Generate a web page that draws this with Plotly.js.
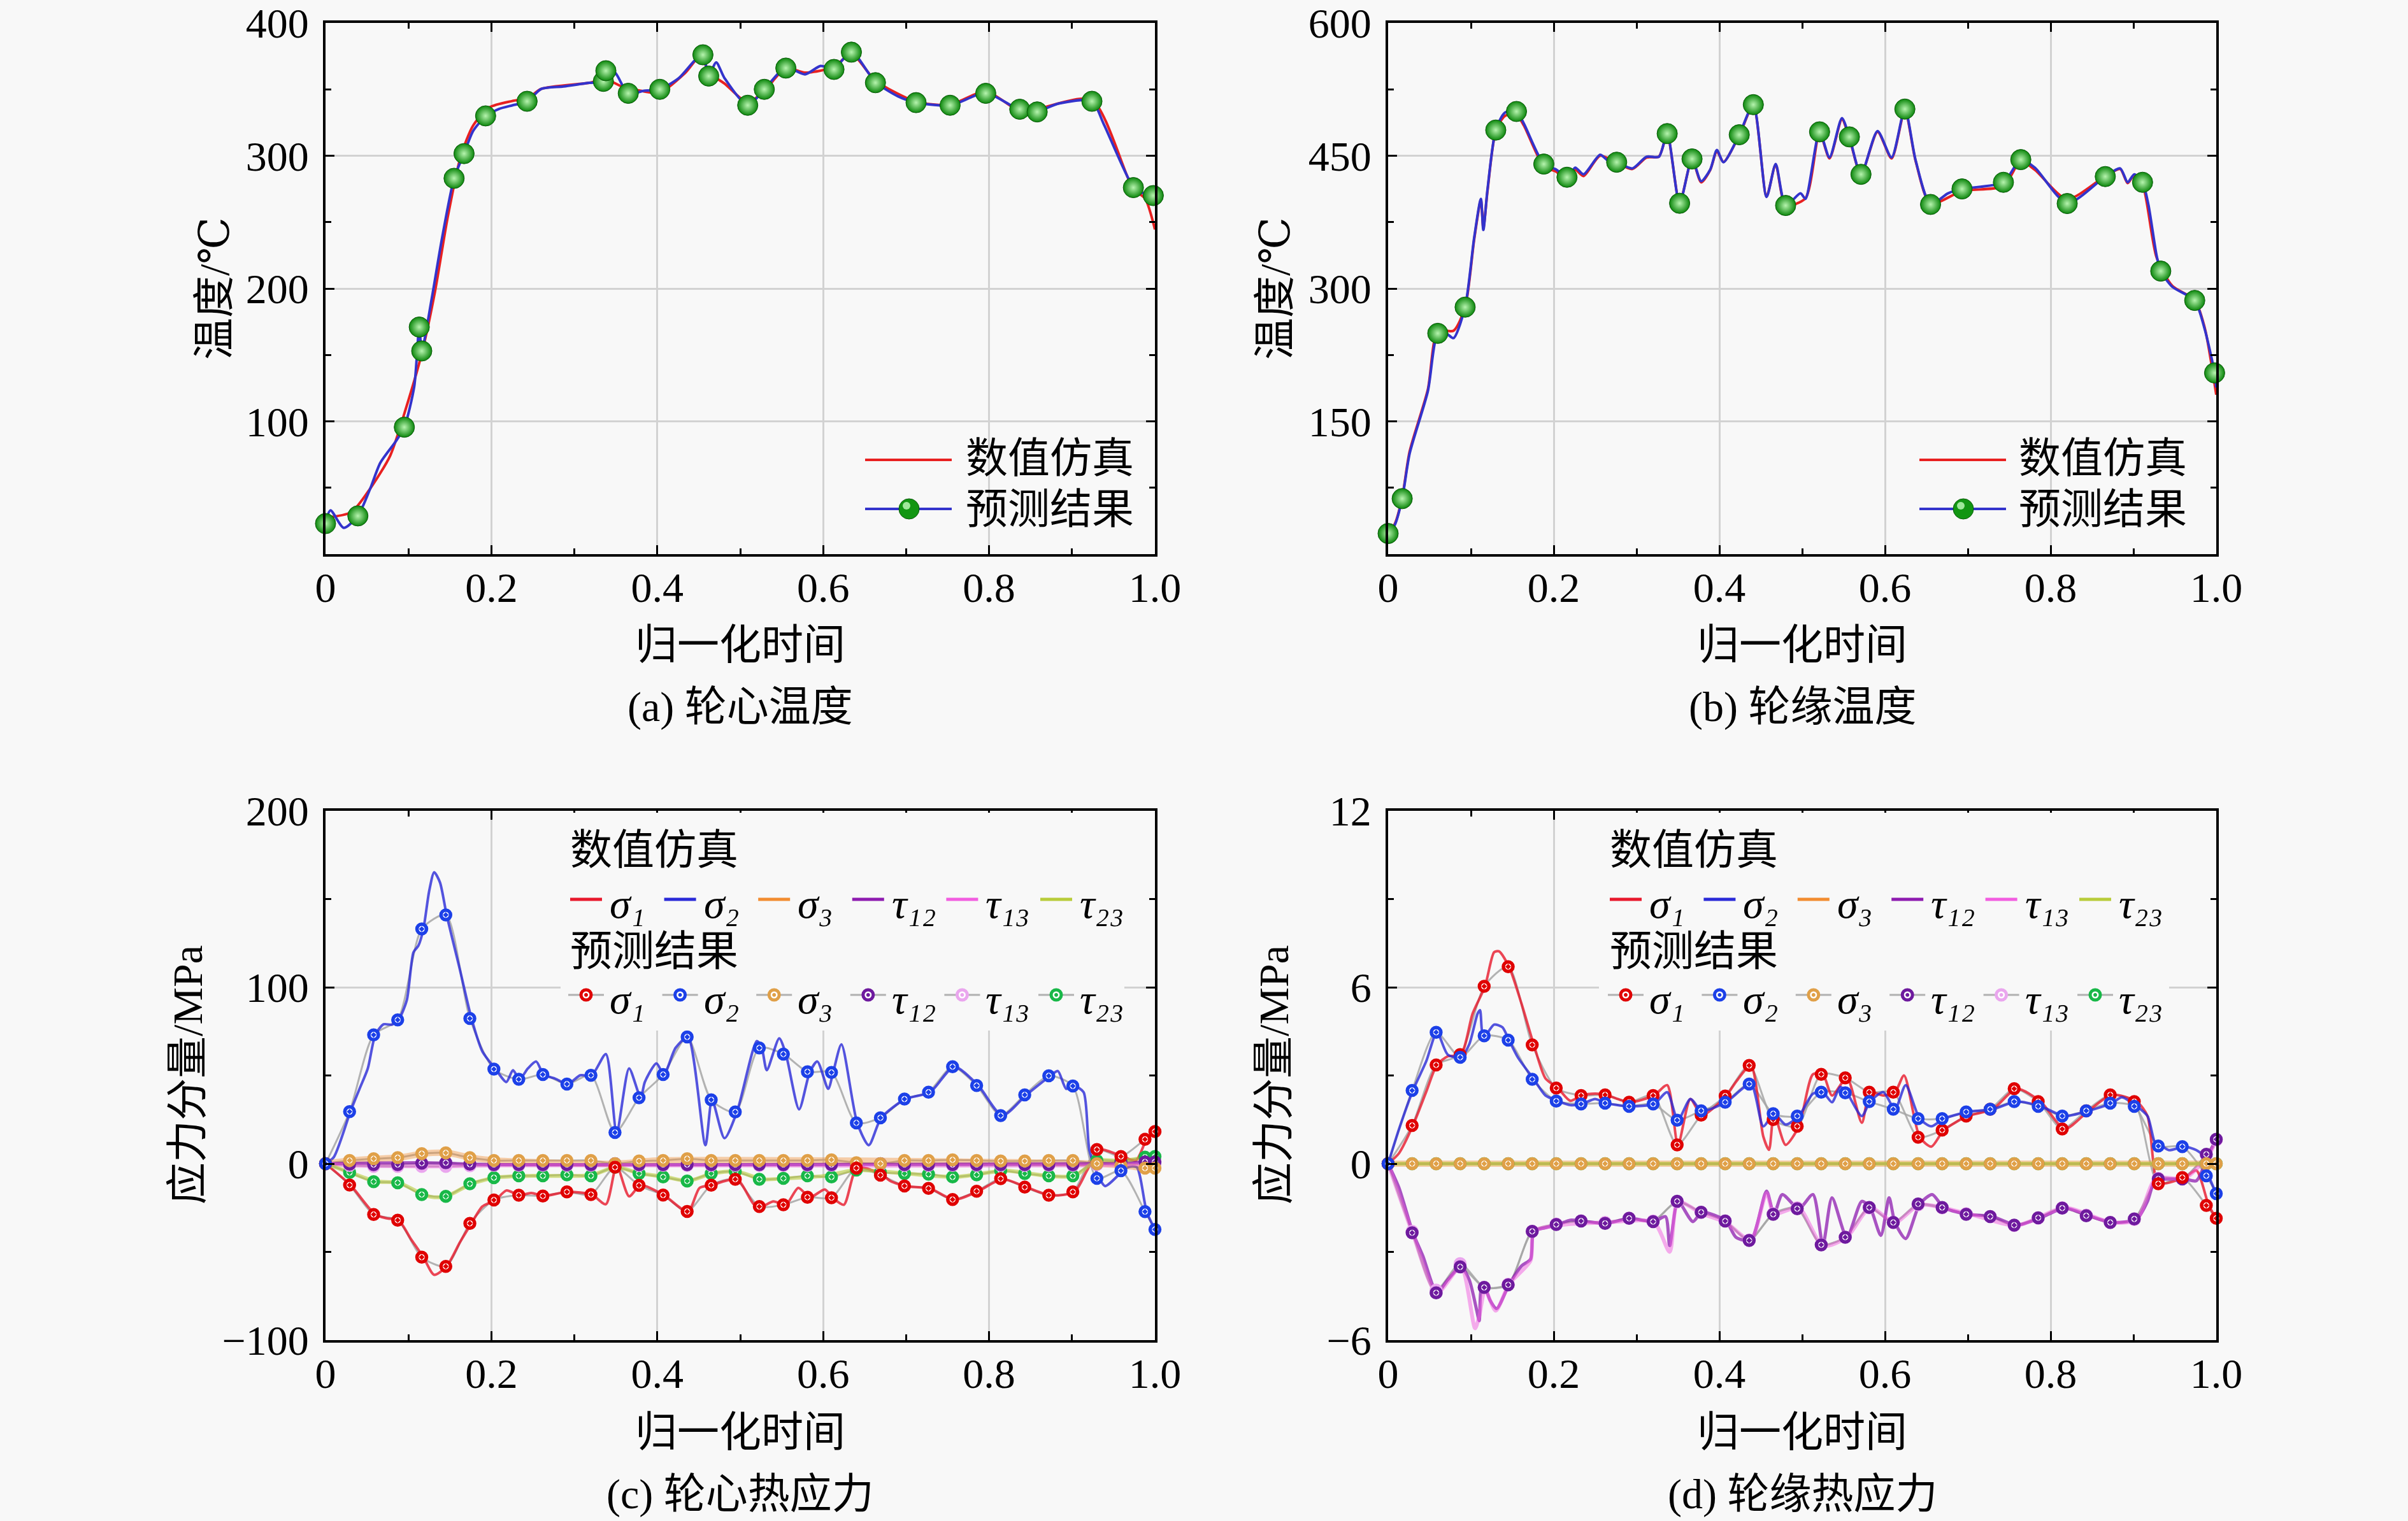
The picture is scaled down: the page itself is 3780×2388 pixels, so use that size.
<!DOCTYPE html>
<html><head><meta charset="utf-8">
<script src="https://cdn.plot.ly/plotly-3.0.1.min.js"></script>
<style>html,body{margin:0;padding:0;background:#f8f8f8}</style>
</head><body><div id="chart" style="width:3780px;height:2388px"></div>
<script>
// ---------------- DATA ----------------
// (a) 轮心温度
const tA_sim = [0,0.031,0.054,0.078,0.097,0.116,0.132,0.147,0.163,0.178,0.198,0.225,0.244,0.26,0.318,0.337,0.357,0.38,0.403,0.434,0.451,0.465,0.481,0.509,0.529,0.555,0.578,0.613,0.634,0.663,0.712,0.753,0.796,0.837,0.858,0.924,0.974,0.988,1.0];
const vA_sim = [27.5,31.6,49.5,74.2,109.9,151.1,197.8,252.7,299.5,322.8,336.5,341.2,343.4,350.3,354.9,357.7,352.2,348.9,347.5,362.6,374.2,361.3,354.4,340.1,348.9,365.9,362.6,366.8,376.9,356.6,340.7,338.5,348.4,333.8,335.2,342,274.7,267.9,244.5];
const tA_pred = [0,0.006,0.022,0.039,0.054,0.066,0.085,0.095,0.107,0.113,0.116,0.128,0.14,0.155,0.167,0.178,0.193,0.209,0.225,0.243,0.26,0.287,0.318,0.335,0.338,0.349,0.365,0.384,0.403,0.426,0.446,0.455,0.462,0.471,0.481,0.509,0.529,0.555,0.578,0.597,0.613,0.634,0.663,0.69,0.712,0.753,0.796,0.837,0.858,0.884,0.924,0.938,0.974,0.985,1.0];
const vA_pred = [24.7,33,19.8,28.8,49.5,68.7,85.2,95.6,126.4,171.2,153.3,192.3,236.3,283,301.6,318.7,329.7,335.2,337.9,340.7,350.3,352.2,354.9,356,364.3,362.6,346.7,348.9,350,358.5,372.3,375.8,360.4,370.3,358.5,337.9,350,366.5,361.3,367.6,365.4,378.3,355.5,344.8,340.1,337.9,347.3,334.6,333.5,339.3,341.2,324.2,276.4,272,269.2];
const tA_mk = [0,0.039,0.095,0.113,0.116,0.155,0.167,0.193,0.243,0.335,0.338,0.365,0.403,0.455,0.462,0.509,0.529,0.555,0.613,0.634,0.663,0.712,0.753,0.796,0.837,0.858,0.924,0.974,0.998];
const vA_mk = [23,28.8,95.6,171,153,283,301.6,330,341,356,364,347,350,376,360,338,350,366,365,378,355,340,338,347,335,333,341,276,270];

// (b) 轮缘温度
const tB_sim = [0,0.008,0.017,0.026,0.048,0.06,0.079,0.093,0.104,0.112,0.115,0.12,0.13,0.141,0.155,0.164,0.188,0.203,0.216,0.226,0.236,0.256,0.276,0.295,0.312,0.327,0.337,0.352,0.367,0.378,0.389,0.397,0.405,0.424,0.441,0.457,0.468,0.48,0.504,0.521,0.533,0.548,0.557,0.571,0.591,0.608,0.624,0.637,0.655,0.693,0.743,0.764,0.781,0.82,0.866,0.884,0.893,0.901,0.911,0.928,0.947,0.974,0.986,1.0];
const vB_sim = [25,34,64,116,186,252,252.3,279,356,400,368,410,478,495,496.5,484,438,432,423,434,427,450,442,435,448,449,474,397,446,420,434,455,443,473,507,404,440,394,402,476,447,491,470,429,477,447,501,444,396,410,415.8,444,434,401,427,435,419,428,418,335,303,287,256,180];
const tB_pred = [0,0.008,0.017,0.026,0.048,0.06,0.07,0.079,0.093,0.104,0.112,0.115,0.12,0.13,0.141,0.155,0.164,0.188,0.203,0.216,0.226,0.236,0.256,0.265,0.276,0.295,0.312,0.327,0.337,0.352,0.367,0.378,0.389,0.397,0.405,0.424,0.441,0.457,0.468,0.48,0.498,0.504,0.521,0.533,0.548,0.557,0.571,0.591,0.608,0.624,0.637,0.655,0.676,0.693,0.743,0.764,0.781,0.82,0.866,0.884,0.893,0.901,0.911,0.918,0.928,0.933,0.947,0.974,0.986,0.998,1.0];
const vB_pred = [23.3,32.9,62.7,113.6,184,249.4,249.4,244,279.2,357.8,401.3,366.1,411.7,479.1,498.6,500.2,486.2,440.6,434.4,425.7,436.5,429,451,444.8,442.7,435.7,448.9,448.9,475,396.3,446.4,421.2,434.4,456.4,442.7,473.7,507.7,403.4,440.6,393.8,407.5,401.3,477.1,448.1,492.4,471.3,429,477.9,448.1,502.7,444.8,395.1,407.5,412.5,420,445.6,436.5,396.3,426.5,435.7,420,429,420,395.1,337.1,319.7,301.9,286.6,254.3,204.7,188.2];
const tB_mk = [0,0.017,0.06,0.093,0.13,0.155,0.188,0.216,0.276,0.337,0.352,0.367,0.424,0.441,0.48,0.521,0.557,0.571,0.624,0.655,0.693,0.743,0.764,0.82,0.866,0.911,0.933,0.974,0.998];
const vB_mk = [23.3,62.7,249.4,279,479,500,440.6,425.7,442.7,475,396.3,446.4,473.7,507.7,393.8,477,471.3,429,502.7,395,412.5,420,445.6,396,426.5,420,319.7,286.6,204.7];

// marker sample times for (c) and (d)
const tMk = [0,0.029,0.058,0.087,0.116,0.145,0.174,0.203,0.233,0.262,0.291,0.32,0.349,0.378,0.407,0.436,0.465,0.494,0.523,0.552,0.581,0.61,0.64,0.669,0.698,0.727,0.756,0.785,0.814,0.843,0.872,0.901,0.93,0.959,0.988,1.0];

// (c) 轮心热应力 — numerical simulation
const tC_s1 = [0,0.030,0.060,0.074,0.088,0.103,0.118,0.131,0.146,0.162,0.176,0.189,0.205,0.218,0.234,0.248,0.263,0.292,0.321,0.338,0.351,0.366,0.380,0.408,0.437,0.451,0.466,0.496,0.517,0.526,0.540,0.555,0.570,0.584,0.602,0.612,0.625,0.641,0.670,0.681,0.699,0.729,0.758,0.787,0.816,0.845,0.874,0.903,0.918,0.933,0.961,0.977,0.990,1.0];
const vC_s1 = [0,-12.1,-28.8,-31,-32,-42.7,-53,-63,-58.2,-44.6,-33.8,-24.3,-20.6,-15.2,-17.9,-16.6,-18.3,-16,-17.5,-23,-1.1,-18.5,-12.1,-17.9,-27.2,-13.7,-12.1,-8.8,-23.3,-24.3,-21.4,-23.3,-13.7,-19.1,-14.6,-19.5,-23.3,-2.1,-5.9,-9.8,-12.7,-14.1,-20.4,-15.6,-8.8,-13.3,-17.9,-16,-4,8,4.1,1.8,13.8,18.2];
const tC_s2 = [0,0.010,0.030,0.041,0.051,0.060,0.070,0.080,0.088,0.098,0.106,0.112,0.118,0.125,0.131,0.138,0.146,0.162,0.176,0.189,0.205,0.218,0.226,0.234,0.244,0.254,0.263,0.277,0.292,0.307,0.321,0.338,0.351,0.366,0.380,0.385,0.399,0.408,0.422,0.437,0.458,0.466,0.481,0.496,0.520,0.526,0.532,0.547,0.555,0.571,0.584,0.593,0.606,0.612,0.622,0.641,0.655,0.670,0.699,0.729,0.758,0.787,0.816,0.845,0.874,0.883,0.893,0.903,0.914,0.921,0.933,0.940,0.967,0.978,0.990,1.0];
const vC_s2 = [0,3.7,29.5,42.4,54,73,79,78.8,81.5,92.7,119.8,123.6,133,154.6,165.2,159.4,141,110,82.3,63.7,53.6,46.3,53,47.8,54,57.9,50.5,48.2,45.1,50.1,50.1,62.1,17.7,54,37.4,46.3,56.9,50.5,65.6,71.8,10.5,36.2,14.4,29.3,69.5,65.6,53,71,62.1,30.8,52.1,57.9,42.4,51.7,67.6,23.1,10.5,26,36.6,40.5,55,44.3,27.3,39,49.8,52.5,42.4,44,40.5,7.6,-8.3,-12.7,-2.1,-2,-27.2,-37.3];
const tC_s3 = [0,0.03,0.06,0.088,0.118,0.146,0.176,0.205,0.35,0.40,0.93,0.96,0.99,1.0];
const vC_s3 = [0,1.8,2.8,3.4,5.7,6.1,3.4,1.8,0,1.8,0,-1,-2.5,-2.5];
const tC_t12 = [0,0.12,0.2,0.5,0.93,0.96,1.0];
const vC_t12 = [0,0.5,-0.5,-0.5,0,0.5,1];
const tC_t13 = [0,0.03,0.118,0.146,0.2,0.5,0.93,1.0];
const vC_t13 = [0,-1,-1.5,-1.5,-1,-1,-1,0];
const tC_t23 = [0,0.03,0.06,0.088,0.118,0.13,0.146,0.176,0.205,0.25,0.32,0.35,0.38,0.41,0.437,0.466,0.496,0.526,0.555,0.6,0.64,0.7,0.76,0.82,0.87,0.903,0.93,0.96,0.99,1.0];
const vC_t23 = [0,-5,-10,-10.8,-17.5,-19,-18.5,-11.4,-7.9,-6.9,-6.5,-2,-5.6,-7.5,-9.8,-5.6,-4.4,-8.8,-8.3,-7,-3.6,-5.6,-7.5,-4,-6.9,-6.9,1.8,1.5,3.7,4.1];
// (c) predicted
const pC_s1 = [0,-12.1,-28.8,-32,-53,-58.2,-33.8,-20.6,-17.9,-18.3,-16,-17.5,-2,-12.3,-17.8,-27.1,-12.2,-8.8,-24.3,-23.3,-19,-19.3,-2.5,-6.5,-12.6,-14,-20.3,-15.6,-8.5,-13.3,-17.9,-16,8,4.1,13.8,18.2];
const pC_s2 = [0,29.5,73,81.5,133,141,82.3,53.6,47.8,50.5,45.1,50.1,17.7,37.4,50.5,71.8,36.2,29.3,65.6,62.1,52.1,51.7,23.1,26,36.6,40.5,55,44.3,27.3,39,49.8,44,-8.3,-4,-27.2,-37.3];
const pC_s3 = [0,1.8,2.8,3.4,5.7,6.1,3.4,1.8,1.8,1.8,1.8,1.8,0,1.5,1.8,2.8,1.8,1.8,1.8,1.8,1.8,2.2,0.5,0,1.8,1.8,2.2,1.8,1.5,1.5,1.8,1.8,0,-1,-2.5,-2.5];
const pC_t12 = [0,-0.3,-0.5,-0.5,0.3,0.5,-0.3,-0.5,-0.5,-0.5,-0.5,-0.5,0,-0.5,-0.5,-0.5,-0.5,-0.5,-0.5,-0.5,-0.5,-0.5,0,0,-0.5,-0.5,-0.5,-0.5,-0.5,-0.5,-0.5,-0.5,0,0.5,1,1];
const pC_t13 = [0,-1,-1.5,-1.5,-1.5,-1.5,-1.2,-1,-1,-1,-1,-1,-0.5,-1,-1,-1,-1,-1,-1,-1,-1,-1,-0.5,-0.5,-1,-1,-1,-1,-1,-1,-1,-1,-0.5,0,0,0];
const pC_t23 = [0,-5,-10.2,-10.8,-17.5,-18.5,-11.4,-7.9,-6.9,-6.9,-6.3,-6.9,-2,-5.6,-7.5,-9.8,-5.6,-4.4,-8.8,-8.3,-6.9,-7.5,-3.6,-5,-5.6,-6,-7.5,-6.3,-4,-5.6,-6.9,-6.9,1.8,1.5,3.7,4.1];

// (d) 轮缘热应力 — numerical simulation
const tD_s1 = [0,0.013,0.030,0.046,0.059,0.072,0.088,0.102,0.117,0.128,0.134,0.146,0.161,0.176,0.190,0.205,0.220,0.234,0.250,0.263,0.292,0.321,0.337,0.350,0.365,0.379,0.408,0.420,0.438,0.453,0.460,0.466,0.480,0.496,0.513,0.525,0.536,0.554,0.572,0.582,0.598,0.612,0.623,0.642,0.656,0.671,0.700,0.730,0.759,0.788,0.817,0.846,0.874,0.904,0.917,0.927,0.934,0.962,0.976,0.991,1.0];
const vD_s1 = [0,0.35,1.3,2.44,3.36,3.65,3.71,5.1,6.03,7.19,7.22,6.7,5.45,4.04,2.9,2.57,2.14,2.32,2.38,2.34,2.09,2.32,2.67,0.64,2.2,1.65,2.3,2.78,3.34,0.93,0.47,1.7,0.64,1.27,3.04,3.04,2.32,2.92,1.39,2.43,2.32,2.43,3.0,0.9,0.58,1.14,1.62,1.85,2.55,2.11,1.18,1.8,2.34,2.11,1.62,-0.47,-0.675,-0.47,-0.23,-1.42,-1.86];
const tD_s2 = [0,0.013,0.030,0.046,0.059,0.072,0.088,0.098,0.108,0.111,0.114,0.117,0.128,0.138,0.146,0.157,0.176,0.190,0.205,0.220,0.234,0.250,0.263,0.292,0.321,0.337,0.350,0.365,0.379,0.408,0.438,0.453,0.466,0.480,0.496,0.513,0.525,0.536,0.546,0.554,0.572,0.582,0.598,0.612,0.625,0.642,0.656,0.671,0.700,0.730,0.759,0.788,0.817,0.846,0.874,0.886,0.904,0.917,0.927,0.934,0.943,0.962,0.976,0.986,0.991,1.0];
const vD_s2 = [0,1.16,2.49,3.48,4.47,3.71,3.62,4.06,5.1,5.22,4.41,4.35,4.73,4.64,4.2,3.6,2.87,2.32,2.13,1.99,2.03,2.2,2.06,1.95,2.03,2.43,1.48,2.2,1.8,2.09,2.71,1.27,1.7,1.33,1.62,2.38,2.43,2.09,2.61,2.41,1.62,2.11,2.43,1.85,2.67,1.53,1.27,1.53,1.76,1.85,2.11,1.95,1.62,1.8,2.06,2.26,1.95,1.62,0.64,0.6,0.46,0.58,0.46,0.23,-0.41,-1.02];
const tD_s3 = [0,0.5,0.93,1.0];
const vD_s3 = [0,0,0,0];
const tD_t12 = [0,0.013,0.030,0.042,0.059,0.072,0.088,0.098,0.107,0.110,0.113,0.117,0.123,0.131,0.146,0.161,0.172,0.176,0.190,0.205,0.220,0.234,0.263,0.292,0.321,0.335,0.340,0.350,0.368,0.379,0.408,0.420,0.438,0.457,0.466,0.476,0.496,0.513,0.525,0.536,0.554,0.572,0.582,0.595,0.605,0.612,0.625,0.642,0.657,0.671,0.700,0.730,0.759,0.788,0.817,0.846,0.874,0.904,0.917,0.927,0.934,0.962,0.976,0.991,1.0];
const vD_t12 = [0,-0.81,-2.35,-3.14,-4.39,-3.95,-3.51,-3.95,-4.99,-5.34,-4.18,-4.21,-4.64,-4.93,-4.12,-3.48,-3.25,-2.3,-2.18,-2.07,-1.92,-1.95,-2.03,-1.86,-1.97,-1.8,-2.79,-1.28,-1.97,-1.65,-1.95,-2.5,-2.61,-0.93,-1.72,-1.05,-1.53,-1.05,-2.76,-1.16,-2.5,-1.28,-1.49,-2.44,-1.16,-2.0,-2.55,-1.37,-1.05,-1.49,-1.72,-1.8,-2.09,-1.84,-1.51,-1.77,-2.0,-1.88,-1.28,-0.47,-0.52,-0.52,-0.58,0.32,0.83];
const tD_t13 = [0,0.03,0.059,0.088,0.105,0.11,0.117,0.13,0.146,0.172,0.176,0.205,0.263,0.321,0.34,0.35,0.379,0.408,0.438,0.457,0.466,0.496,0.525,0.554,0.582,0.612,0.642,0.7,0.759,0.817,0.874,0.904,0.927,0.962,0.991,1.0];
const vD_t13 = [0,-2.4,-4.4,-3.5,-5.6,-5.2,-4.3,-5.0,-4.1,-3.3,-2.3,-2.1,-2.0,-2.0,-3.0,-1.3,-1.7,-2.0,-2.6,-1.0,-1.7,-1.5,-2.8,-2.5,-1.5,-2.0,-1.4,-1.7,-2.1,-1.5,-2.0,-1.9,-0.5,-0.5,0.3,0.8];
const tD_t23 = [0,0.5,0.93,1.0];
const vD_t23 = [0,0,0,0];
// (d) predicted
const pD_s1 = [0,1.3,3.36,3.71,6.03,6.7,4.04,2.57,2.32,2.34,2.09,2.32,0.64,1.65,2.3,3.34,1.5,1.27,3.04,2.92,2.43,2.43,0.9,1.14,1.62,1.85,2.55,2.11,1.18,1.8,2.34,2.11,-0.68,-0.47,-1.42,-1.86];
const pD_s2 = [0,2.49,4.47,3.62,4.35,4.2,2.87,2.13,2.03,2.06,1.95,2.03,1.48,1.8,2.09,2.71,1.7,1.62,2.43,2.41,2.11,1.85,1.53,1.53,1.76,1.85,2.11,1.95,1.62,1.8,2.06,1.95,0.6,0.58,-0.41,-1.02];
const pD_s3 = [0,0,0,0,0,0,0,0,0,0,0,0,0,0,0,0,0,0,0,0,0,0,0,0,0,0,0,0,0,0,0,0,0,0,0,0];
const pD_t12 = [0,-2.35,-4.39,-3.51,-4.21,-4.12,-2.3,-2.07,-1.95,-2.03,-1.86,-1.97,-1.28,-1.65,-1.95,-2.61,-1.72,-1.53,-2.76,-2.5,-1.49,-2.0,-1.37,-1.49,-1.72,-1.8,-2.09,-1.84,-1.51,-1.77,-2.0,-1.88,-0.52,-0.52,0.32,0.83];
const pD_t13 = [0,-2.3,-4.3,-3.4,-4.2,-4.1,-2.3,-2.05,-1.95,-2.0,-1.85,-1.95,-1.3,-1.65,-1.95,-2.6,-1.7,-1.5,-2.75,-2.5,-1.5,-2.0,-1.4,-1.5,-1.7,-1.8,-2.1,-1.85,-1.5,-1.75,-2.0,-1.9,-0.5,-0.5,0.3,0.8];
const pD_t23 = [0,0,0,0,0,0,0,0,0,0,0,0,0,0,0,0,0,0,0,0,0,0,0,0,0,0,0,0,0,0,0,0,0,0,0,0];

// tick labels
const xTickVals = [0,0.2,0.4,0.6,0.8,1.0];
const xTickText = ['0','0.2','0.4','0.6','0.8','1.0'];
const xMinorVals = [0.1,0.3,0.5,0.7,0.9];
const compLabels = ['σ₁','σ₂','σ₃','τ₁₂','τ₁₃','τ₂₃'];
const legendSim = '数值仿真', legendPred = '预测结果';

// ---------------- STYLE ----------------
const W = 3780, H = 2388;
const F = "'Liberation Serif', 'Times New Roman', 'DejaVu Serif', 'Noto Sans CJK SC', serif";
const BG = '#f8f8f8';
const simCols = ['#e8192c','#2a2ad8','#f28c30','#8e1cb0','#f25ee0','#b8cc3a'];
const mkCols  = ['#e00000','#1c40e8','#e0a048','#6e1a9e','#eaa6ee','#18b848'];
const simW = [4,4,10,5,6,6];
const simOp = [0.8,0.8,0.4,0.75,0.5,0.6];
const px = X => X / W;
const py = Y => 1 - Y / H;

function axX(dom, anchor) {
  return {domain: dom, anchor: anchor, range: [0,1], tickmode: 'array', tickvals: xTickVals, ticktext: xTickText,
    ticks: 'inside', ticklen: 14, tickwidth: 3, tickcolor: '#000', showline: true, linewidth: 4, linecolor: '#000',
    mirror: 'ticks', showgrid: true, gridcolor: '#d2d2d2', gridwidth: 3, zeroline: false,
    tickfont: {family: F, size: 66, color: '#000'}, ticklabelstandoff: -8,
    minor: {tickmode: 'array', tickvals: xMinorVals, ticks: 'inside', ticklen: 9, tickwidth: 3, tickcolor: '#000', showgrid: false}};
}
function axY(dom, anchor, rng, vals, minor) {
  return {domain: dom, anchor: anchor, range: rng, tickmode: 'array', tickvals: vals,
    ticks: 'inside', ticklen: 14, tickwidth: 3, tickcolor: '#000', showline: true, linewidth: 4, linecolor: '#000',
    mirror: 'ticks', showgrid: true, gridcolor: '#d2d2d2', gridwidth: 3, zeroline: false,
    tickfont: {family: F, size: 66, color: '#000'}, ticklabelstandoff: 9,
    minor: {tickmode: 'array', tickvals: minor, ticks: 'inside', ticklen: 9, tickwidth: 3, tickcolor: '#000', showgrid: false}};
}

const traces = [];
function lineTrace(x, y, xa, ya, color, width, opacity, shape) {
  return {type: 'scatter', mode: 'lines', x: x, y: y, xaxis: xa, yaxis: ya, opacity: opacity,
    line: {color: color, width: width, shape: shape || 'linear', smoothing: 0.7}, cliponaxis: false, hoverinfo: 'skip'};
}
function ballTrace(x, y, xa, ya) {
  return {type: 'scatter', mode: 'markers', x: x, y: y, xaxis: xa, yaxis: ya, cliponaxis: false,
    marker: {size: 32, color: '#0b860b', gradient: {type: 'radial', color: '#b6f4ae'}, line: {color: '#0a5a0a', width: 1}}};
}
function ringTrace(x, y, xa, ya, color) {
  return {type: 'scatter', mode: 'markers', x: x, y: y, xaxis: xa, yaxis: ya, cliponaxis: false,
    marker: {symbol: 'circle-dot', size: 15, color: '#ffffff', line: {color: color, width: 5.5}}};
}

// (a)
traces.push(lineTrace(tA_sim, vA_sim, 'x', 'y', '#e82020', 4, 1, 'spline'));
traces.push(lineTrace(tA_pred, vA_pred, 'x', 'y', '#3333cc', 4, 1, 'spline'));
traces.push(ballTrace(tA_mk, vA_mk, 'x', 'y'));
// (b)
traces.push(lineTrace(tB_sim, vB_sim, 'x2', 'y2', '#e82020', 4, 1, 'spline'));
traces.push(lineTrace(tB_pred, vB_pred, 'x2', 'y2', '#3333cc', 4, 1, 'spline'));
traces.push(ballTrace(tB_mk, vB_mk, 'x2', 'y2'));

// (c), (d)
function stressPanel(xa, ya, sims, preds) {
  preds.forEach(p => traces.push(lineTrace(tMk, p, xa, ya, '#a6a6a6', 3, 0.85, 'spline')));
  sims.forEach((s, i) => traces.push(lineTrace(s[0], s[1], xa, ya, simCols[i], simW[i], simOp[i], 'spline')));
  [5,4,3,2,0,1].forEach(i => traces.push(ringTrace(tMk, preds[i], xa, ya, mkCols[i])));
}
stressPanel('x3', 'y3',
  [[tC_s1,vC_s1],[tC_s2,vC_s2],[tC_s3,vC_s3],[tC_t12,vC_t12],[tC_t13,vC_t13],[tC_t23,vC_t23]],
  [pC_s1,pC_s2,pC_s3,pC_t12,pC_t13,pC_t23]);
stressPanel('x4', 'y4',
  [[tD_s1,vD_s1],[tD_s2,vD_s2],[tD_s3,vD_s3],[tD_t12,vD_t12],[tD_t13,vD_t13],[tD_t23,vD_t23]],
  [pD_s1,pD_s2,pD_s3,pD_t12,pD_t13,pD_t23]);

// ---------------- LAYOUT ----------------
const xDomL = [px(511), px(1813)], xDomR = [px(2179), px(3479)];
const yDomT = [py(870), py(36)], yDomB = [py(2104), py(1273)];

const shapes = [], annotations = [];
function txt(text, X, Y, opts) {
  annotations.push(Object.assign({text: text, xref: 'paper', yref: 'paper', x: px(X), y: py(Y), showarrow: false,
    xanchor: 'center', yanchor: 'middle', font: {family: F, size: 66, color: '#000'}}, opts || {}));
}
function hline(X0, X1, Y, color, width) {
  shapes.push({type: 'line', xref: 'paper', yref: 'paper', x0: px(X0), x1: px(X1), y0: py(Y), y1: py(Y), line: {color: color, width: width}});
}
function circ(cx, cy, r, fill, lineColor, lw) {
  shapes.push({type: 'circle', xref: 'paper', yref: 'paper', x0: px(cx - r), x1: px(cx + r), y0: py(cy + r), y1: py(cy - r),
    fillcolor: fill, line: {color: lineColor, width: lw}});
}

const colCenters = [1162, 2829];
const capsTop = ['(a) 轮心温度', '(b) 轮缘温度'], capsBot = ['(c) 轮心热应力', '(d) 轮缘热应力'];
colCenters.forEach((cx, i) => {
  txt('归一化时间', cx, 1012);
  txt(capsTop[i], cx, 1110);
  txt('归一化时间', cx, 2248);
  txt(capsBot[i], cx, 2346);
});
txt('温度/℃', 337, 453, {textangle: -90});
txt('温度/℃', 2002, 453, {textangle: -90});
txt('应力分量/MPa', 294, 1688, {textangle: -90});
txt('应力分量/MPa', 1999, 1688, {textangle: -90});

// legends (a), (b)
[[1358, 1514], [3013, 3167]].forEach(([lx, tx]) => {
  hline(lx, lx + 136, 722, '#e82020', 4);
  txt(legendSim, tx, 720, {xanchor: 'left'});
  hline(lx, lx + 136, 799, '#3333cc', 4);
  circ(lx + 69, 799, 16, '#129612', '#0a5a0a', 1);
  circ(lx + 65, 794, 6, '#9fe79a', 'rgba(0,0,0,0)', 0);
  txt(legendPred, tx, 799, {xanchor: 'left'});
});

// legends (c), (d)
const legItalic = {family: F, size: 66, color: '#000', style: 'italic'};
[[895, 147.6, 880, 1765], [2527, 147.4, 2510, 3405]].forEach(([L, S, bx0, bx1]) => {
  shapes.push({type: 'rect', xref: 'paper', yref: 'paper', x0: px(bx0), x1: px(bx1), y0: py(1618), y1: py(1276),
    fillcolor: BG, line: {width: 0}, layer: 'above'});
  txt(legendSim, L - 2, 1334, {xanchor: 'left'});
  txt(legendPred, L - 2, 1493, {xanchor: 'left'});
  for (let i = 0; i < 6; i++) {
    const x0 = L + i * S;
    hline(x0, x0 + 50, 1412, simCols[i], 5);
    txt(compLabels[i], x0 + 60, 1418, {xanchor: 'left', font: legItalic});
    hline(x0 - 3, x0 + 53, 1562, '#b0b0b0', 3);
    circ(x0 + 25, 1562, 8, '#ffffff', mkCols[i], 5);
    circ(x0 + 25, 1562, 2.5, mkCols[i], mkCols[i], 1);
    txt(compLabels[i], x0 + 60, 1568, {xanchor: 'left', font: legItalic});
  }
});

const layout = {
  width: W, height: H, margin: {l: 0, r: 0, t: 0, b: 0},
  paper_bgcolor: BG, plot_bgcolor: BG, showlegend: false, font: {family: F, color: '#000'},
  xaxis: axX(xDomL, 'y'), yaxis: axY(yDomT, 'x', [0,400], [100,200,300,400], [50,150,250,350]),
  xaxis2: axX(xDomR, 'y2'), yaxis2: axY(yDomT, 'x2', [0,600], [150,300,450,600], [75,225,375,525]),
  xaxis3: axX(xDomL, 'y3'), yaxis3: axY(yDomB, 'x3', [-100,200], [-100,0,100,200], [-50,50,150]),
  xaxis4: axX(xDomR, 'y4'), yaxis4: axY(yDomB, 'x4', [-6,12], [-6,0,6,12], [-3,3,9]),
  shapes: shapes, annotations: annotations
};
Plotly.newPlot('chart', traces, layout, {staticPlot: true});
</script></body></html>
